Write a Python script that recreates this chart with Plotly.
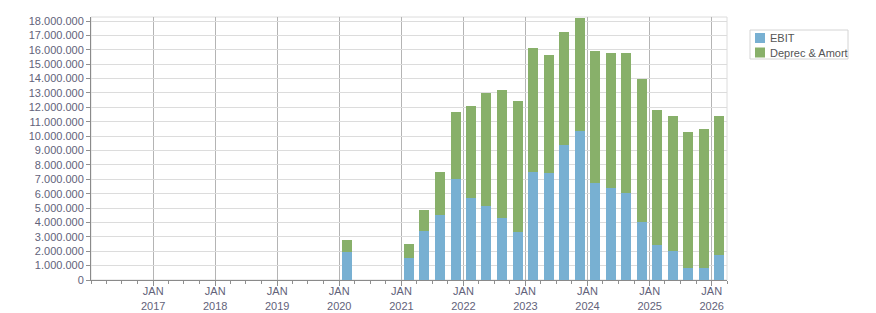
import plotly.graph_objects as go

quarters = ["2020-01-01",
            "2021-01-01", "2021-04-01", "2021-07-01", "2021-10-01",
            "2022-01-01", "2022-04-01", "2022-07-01", "2022-10-01",
            "2023-01-01", "2023-04-01", "2023-07-01", "2023-10-01",
            "2024-01-01", "2024-04-01", "2024-07-01", "2024-10-01",
            "2025-01-01", "2025-04-01", "2025-07-01", "2025-10-01",
            "2026-01-01"]
ebit = [1970000,
        1550000, 3400000, 4520000, 7020000,
        5720000, 5170000, 4310000, 3340000,
        7500000, 7440000, 9380000, 10350000,
        6720000, 6390000, 6020000, 4030000,
        2430000, 2000000, 860000, 860000,
        1740000]
deprec = [810000,
          950000, 1460000, 2980000, 4650000,
          6370000, 7820000, 8890000, 9100000,
          8620000, 8200000, 7850000, 7860000,
          9190000, 9380000, 9750000, 9940000,
          9380000, 9400000, 9430000, 9630000,
          9660000]
series_names = ["EBIT", "Deprec & Amort"]
series_colors = ["#78b0d2", "#88b06a"]
tick_dates = ["2017-01-01", "2018-01-01", "2019-01-01", "2020-01-01", "2021-01-01",
              "2022-01-01", "2023-01-01", "2024-01-01", "2025-01-01", "2026-01-01"]
tick_text = ["JAN<br>2017", "JAN<br>2018", "JAN<br>2019", "JAN<br>2020", "JAN<br>2021",
             "JAN<br>2022", "JAN<br>2023", "JAN<br>2024", "JAN<br>2025", "JAN<br>2026"]

FONT = "Liberation Sans"
TXT = "#62627a"
W, H = 876, 313
ML, MR, MT, MB = 91, 149, 17, 33
PW, PH = W - ML - MR, H - MT - MB


def px(x):
    return (x - ML) / PW


def py(y):
    return (H - MB - y) / PH


fig = go.Figure()
for vals, name, col in zip([ebit, deprec], series_names, series_colors):
    fig.add_trace(go.Bar(x=quarters, y=vals, name=name, marker_color=col,
                         marker_line_width=0, xperiod="M3", xperiodalignment="middle",
                         showlegend=False))

shapes = [dict(type="rect", xref="paper", yref="paper", x0=0, x1=1, y0=0, y1=1,
               line=dict(color="#dcdcdc", width=1), layer="below"),
          dict(type="rect", xref="paper", yref="paper", x0=px(750), x1=px(848),
               y0=py(59), y1=py(30), line=dict(color="#d4d4d4", width=1),
               fillcolor="white")]
annotations = []
for i, (name, col) in enumerate(zip(series_names, series_colors)):
    top = 33 + i * 14.5
    shapes.append(dict(type="rect", xref="paper", yref="paper", x0=px(755), x1=px(765),
                       y0=py(top + 10), y1=py(top), line=dict(width=0), fillcolor=col))
    annotations.append(dict(xref="paper", yref="paper", x=px(768), y=py(top + 5.5),
                            xanchor="left", yanchor="middle", showarrow=False, text=name,
                            font=dict(family=FONT, size=11, color="#555555")))

fig.update_layout(
    width=W, height=H,
    margin=dict(l=ML, r=MR, t=MT, b=MB, pad=0, autoexpand=False),
    barmode="stack", bargap=0.35,
    plot_bgcolor="white", paper_bgcolor="white",
    separators=",.",
    font=dict(family=FONT, size=11, color=TXT),
    showlegend=False,
    shapes=shapes, annotations=annotations,
)
fig.update_xaxes(
    type="date", range=["2016-01-01", "2026-04-01"], automargin=False,
    tickmode="array", tickvals=tick_dates, ticktext=tick_text,
    ticks="outside", ticklen=5, tickcolor="#909090", ticklabelstandoff=-4,
    showgrid=True, gridcolor="#b4b4b4", gridwidth=1,
    showline=True, linecolor="#8a8a8a", linewidth=1,
    minor=dict(dtick="M3", tick0="2016-01-01", ticks="outside", ticklen=3,
               tickcolor="#909090", showgrid=False),
    tickfont=dict(family=FONT, size=11, color=TXT),
    zeroline=False,
)
fig.update_yaxes(
    range=[0, 18280000], dtick=1000000, tick0=0, tickformat=",d", automargin=False,
    ticks="outside", ticklen=4, tickcolor="#909090",
    showgrid=True, gridcolor="#dcdcdc", gridwidth=1,
    showline=True, linecolor="#8a8a8a", linewidth=1,
    zeroline=False,
    tickfont=dict(family=FONT, size=11, color=TXT),
)

fig.write_html("out.html")
